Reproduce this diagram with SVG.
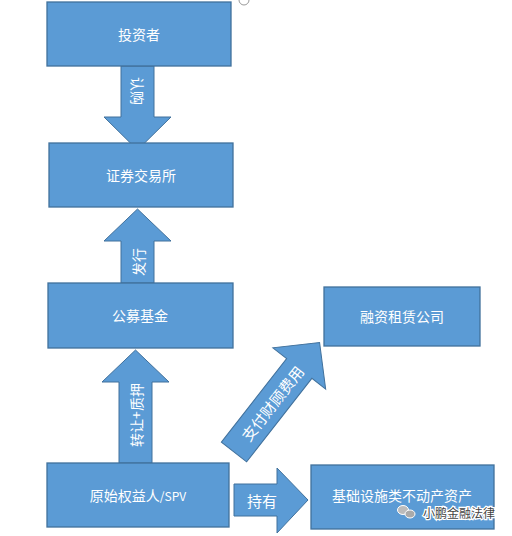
<svg xmlns="http://www.w3.org/2000/svg" width="512" height="536" viewBox="0 0 512 536">
<style>
.box{fill:#5B9BD5;stroke:#41719C;stroke-width:1.3}
.arr{fill:#5B9BD5;stroke:#41719C;stroke-width:1}
.t{fill:#fff;font-family:"Noto Sans CJK SC","Liberation Sans",sans-serif;font-size:14px;text-anchor:middle;dominant-baseline:central}
.wm{font-family:"Noto Sans CJK SC",sans-serif;font-size:12px;fill:#444;stroke:#fff;stroke-width:2.5;paint-order:stroke;dominant-baseline:central}
</style>
<rect x="0" y="0" width="512" height="536" fill="#fff"/>
<path d="M239 0 A5 5 0 0 0 249 0" fill="none" stroke="#999" stroke-width="1"/>
<g id="connectors">
  <g id="arrow-rengou">
    <polygon class="arr" points="121,66 154,66 154,117 171,117 137.5,150 104,117 121,117"/>
    <text class="t" transform="translate(137.5,91) rotate(90)">认购</text>
  </g>
  <g id="arrow-faxing">
    <polygon class="arr" points="137.5,209 171,241 154,241 154,283 121,283 121,241 104,241"/>
    <text class="t" transform="translate(137.5,262) rotate(-90)">发行</text>
  </g>
  <g id="arrow-zhuanrang">
    <polygon class="arr" points="135.5,350 169,382 152,382 152,463 119,463 119,382 102,382"/>
    <text class="t" transform="translate(135.5,415) rotate(-90)">转让+质押</text>
  </g>
  <g id="arrow-zhifu" transform="translate(234,452) rotate(-52)">
    <polygon class="arr" points="0,-16 106,-16 106,-33.5 139,0 106,33.5 106,16 0,16"/>
    <text class="t" x="62" y="0" style="font-size:15px">支付财顾费用</text>
  </g>
  <g id="arrow-chiyou">
    <polygon class="arr" points="234,484 277,484 277,468 308,500 277,533 277,516 234,516"/>
    <text class="t" x="262" y="500" style="font-size:15px">持有</text>
  </g>
</g>
<g id="investor"><rect class="box" x="47" y="2" width="184" height="64"/><text class="t" x="139" y="34">投资者</text></g>
<g id="exchange"><rect class="box" x="49" y="143" width="184" height="64"/><text class="t" x="141" y="175">证券交易所</text></g>
<g id="fund"><rect class="box" x="48" y="283" width="185" height="65"/><text class="t" x="140" y="315">公募基金</text></g>
<g id="originator"><rect class="box" x="47" y="463" width="182" height="64"/><text class="t" x="138" y="495">原始权益人<tspan style="font-size:12px">/SPV</tspan></text></g>
<g id="leasing"><rect class="box" x="324" y="287" width="156" height="59"/><text class="t" x="402" y="316">融资租赁公司</text></g>
<g id="asset"><rect class="box" x="311" y="465" width="183" height="64"/><text class="t" x="402" y="495">基础设施类不动产资产</text></g>
<g id="watermark">
  <ellipse cx="403" cy="510" rx="5.5" ry="4.5" fill="#bbb" stroke="#fff" stroke-width="1"/>
  <ellipse cx="410" cy="514" rx="5" ry="4" fill="#aaa" stroke="#fff" stroke-width="1"/>
  <text class="wm" x="423" y="512">小鹏金融法律</text>
</g>
</svg>
